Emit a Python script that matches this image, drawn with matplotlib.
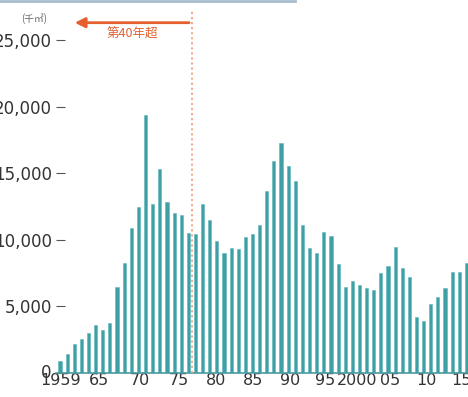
import matplotlib
matplotlib.use("Agg")
import matplotlib.pyplot as plt
import matplotlib.transforms as trns
from matplotlib.lines import Line2D

# floor area by year of construction (thousand m2)
YEARS = list(range(1959, 2017))
VALUES = [890, 1370, 2120, 2500, 2950, 3580, 3200, 3750, 6420, 8270,
          10850, 12440, 19390, 12690, 15300, 12860, 12030, 11860, 10530, 10430,
          12670, 11480, 9900, 9020, 9350, 9280, 10230, 10400, 11110, 13670,
          15950, 17300, 15550, 14440, 11110, 9350, 9020, 10600, 10280, 8170,
          6420, 6910, 6590, 6340, 6210, 7520, 8020, 9430, 7850, 7220,
          4200, 3880, 5130, 5710, 6340, 7550, 7550, 8220]
XTICKS = [1959, 1965, 1970, 1975, 1980, 1985, 1990, 1995, 2000, 2005, 2010, 2015]
XLABELS = ["1959", "65", "70", "75", "80", "85", "90", "95", "2000", "05", "10", "15"]
YTICKS = [0, 5000, 10000, 15000, 20000, 25000]
YLABELS = ["0", "5,000", "10,000", "15,000", "20,000", "25,000"]
CUTOFF = 1977.5
BAR_COLOUR = "#3e9fa5"
ORANGE = "#e4612f"
JP = ["Noto Sans CJK JP", "DejaVu Sans"]
# hand nudges (px) of the year labels, as set in the original
XLABEL_SHIFT = [1, -4, 1, 5, 6, 8, 9, 8, 5, 2, 3, 2]

W, H = 468, 397
fig = plt.figure(figsize=(W / 100, H / 100), dpi=100)
ax = fig.add_axes([56 / W, 24.5 / H, 1 - 56 / W, 362.5 / H])

ax.bar(YEARS, VALUES, width=0.44, color=BAR_COLOUR, edgecolor="#5fb8bc", linewidth=0.4, zorder=2)

ax.set_xlim(1959 - 4 / 7.13, 1959 + 408 / 7.13)
ax.set_ylim(0, 362.5 / 66.4 * 5000)

for s in ["top", "right", "left"]:
	ax.spines[s].set_visible(False)
ax.spines["bottom"].set_color("#4a9a9f")
ax.spines["bottom"].set_linewidth(1.2)

ax.set_yticks(YTICKS)
ax.set_yticklabels(YLABELS)
ax.tick_params(axis="y", direction="in", length=6.5, width=0.8, color="#555555", pad=3, labelsize=12, labelcolor="#333333")
ax.set_xticks(XTICKS)
ax.set_xticklabels(XLABELS)
ax.tick_params(axis="x", length=0, pad=0.5, labelsize=11.5, labelcolor="#333333")

for label, dx in zip(ax.xaxis.get_majorticklabels(), XLABEL_SHIFT):
	label.set_transform(label.get_transform() + trns.ScaledTranslation(dx / 100, 0, fig.dpi_scale_trans))
zero = ax.yaxis.get_majorticklabels()[0]
zero.set_transform(zero.get_transform() + trns.ScaledTranslation(0, 2 / 100, fig.dpi_scale_trans))

# 40-year cutoff marker
ax.axvline(CUTOFF, ymin=0, ymax=1, color="#f2a283", linestyle=(0, (1.2, 1.6)), linewidth=1.3, zorder=3)
ax.annotate("", xy=(1960.68, 26340), xytext=(CUTOFF, 26340),
	arrowprops=dict(arrowstyle="-|>,head_length=0.6,head_width=0.3", color=ORANGE, lw=2))
ax.text(1969.2, 25450, "第40年超", color=ORANGE, fontsize=9, ha="center", va="center", family=JP)

fig.text(34.5 / W, 1 - 19 / H, "(千㎡)", fontsize=7, color="#666666", ha="center", va="center", family=JP)
fig.add_artist(Line2D([0, 295 / W], [1 - 1 / H, 1 - 1 / H], transform=fig.transFigure, color="#a7bccd", lw=2))

fig.savefig("out.png", dpi=100)
